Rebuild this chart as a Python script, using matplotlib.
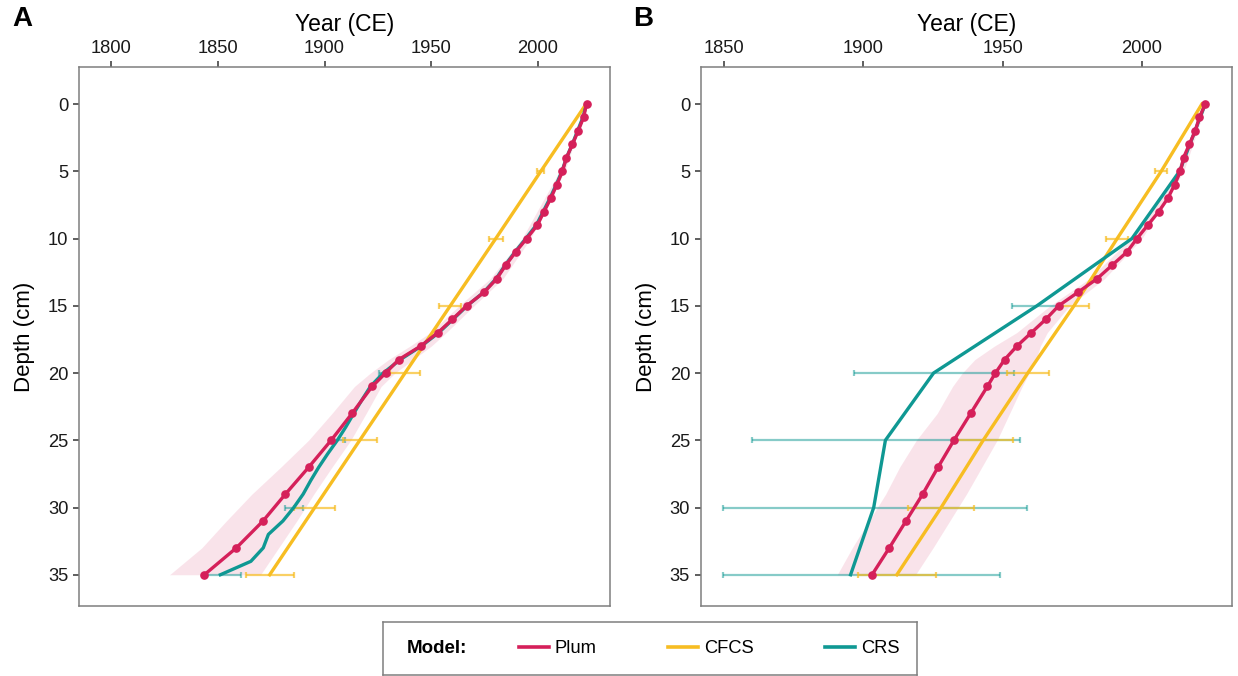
import numpy as np
import matplotlib
matplotlib.use("Agg")
import matplotlib.pyplot as plt
from matplotlib.lines import Line2D

plt.rcParams['font.family'] = ['Liberation Sans', 'DejaVu Sans']

# ---- data ----
plum_depth = [0, 1, 2, 3, 4, 5, 6, 7, 8, 9, 10, 11, 12, 13, 14, 15, 16, 17, 18, 19, 20, 21,
              23, 25, 27, 29, 31, 33, 35]
plum_age_a = [2022.7, 2021.3, 2018.8, 2016.1, 2013.3, 2011.4, 2008.8, 2006.0, 2002.8, 1999.7,
              1994.7, 1989.5, 1984.8, 1980.6, 1974.7, 1966.6, 1959.9, 1953.1, 1945.0, 1934.8,
              1928.6, 1922.3, 1912.9, 1903.1, 1892.6, 1881.7, 1871.2, 1858.7, 1843.7]
plum_age_b = [2022.7, 2020.6, 2019.1, 2017.0, 2014.9, 2013.8, 2011.7, 2009.3, 2006.0, 2002.1,
              1998.2, 1994.6, 1989.2, 1983.8, 1977.0, 1970.1, 1965.5, 1960.3, 1955.1, 1950.7,
              1947.4, 1944.5, 1938.5, 1932.5, 1926.8, 1921.3, 1915.3, 1909.3, 1903.1]

band_depth = [0, 5, 10, 13, 15, 17, 18, 19, 20, 21, 23, 25, 27, 29, 31, 33, 35]
band_lo_a = [2022.3, 2010.0, 1992.5, 1977.5, 1963.0, 1949.5, 1940.0, 1930.0, 1921.5, 1914.0,
             1903.5, 1892.5, 1879.5, 1866.0, 1854.0, 1842.5, 1827.4]
band_hi_a = [2023.1, 2012.5, 1996.5, 1983.5, 1970.0, 1957.0, 1950.0, 1941.5, 1933.0, 1926.5,
             1919.5, 1912.3, 1903.5, 1895.0, 1887.0, 1878.5, 1870.0]
band_lo_b = [2022.3, 2012.3, 1996.0, 1981.0, 1967.0, 1955.0, 1947.0, 1940.0, 1935.5, 1932.0,
             1926.5, 1919.0, 1913.0, 1908.0, 1902.0, 1896.0, 1890.6]
band_hi_b = [2023.1, 2015.0, 2000.0, 1986.5, 1974.0, 1966.0, 1963.5, 1962.0, 1959.5, 1957.0,
             1952.5, 1948.0, 1942.5, 1937.0, 1931.0, 1925.0, 1918.7]

cfcs_depth = [0, 5, 10, 15, 20, 25, 30, 35]
cfcs_age_a = [2022.5, 2001.3, 1980.2, 1958.9, 1937.7, 1916.5, 1895.4, 1874.3]
cfcs_age_b = [2021.5, 2006.9, 1991.1, 1975.6, 1959.0, 1943.0, 1927.9, 1912.0]
cfcs_err_depth = [5, 10, 15, 20, 25, 30, 35]
cfcs_err_a = [1.7, 3.4, 5.2, 6.9, 8.0, 9.7, 11.3]
cfcs_err_b = [2.1, 4.0, 5.5, 7.5, 10.6, 11.9, 13.9]

crs_depth_a = list(range(36))
crs_age_a = [2022.7, 2021.0, 2018.5, 2016.0, 2013.3, 2011.2, 2008.5, 2005.6, 2002.4, 1999.2,
             1994.3, 1989.2, 1984.5, 1980.3, 1974.5, 1966.8, 1960.2, 1953.5, 1945.3, 1935.5,
             1927.5, 1921.5, 1917.5, 1913.7, 1910.0, 1906.0, 1901.5, 1897.3, 1893.5, 1890.0,
             1885.6, 1880.5, 1873.7, 1871.3, 1865.5, 1851.2]
crs_err_depth_a = [20, 25, 30, 35]
crs_lo_a = [1925.5, 1904.0, 1881.7, 1844.8]
crs_hi_a = [1929.5, 1909.8, 1889.9, 1860.9]

crs_depth_b = [0, 5, 10, 15, 20, 25, 30, 35]
crs_age_b = [2022.7, 2013.5, 1996.4, 1962.3, 1925.2, 1907.9, 1903.7, 1895.4]
crs_err_depth_b = [15, 20, 25, 30, 35]
crs_lo_b = [1953.3, 1896.8, 1860.1, 1849.6, 1849.5]
crs_hi_b = [1971.3, 1953.9, 1956.3, 1958.7, 1948.9]

models = ['Plum', 'CFCS', 'CRS']
colors = {'Plum': '#d5205a', 'CFCS': '#f7bd22', 'CRS': '#0f9893'}
depth_ticks = [0, 5, 10, 15, 20, 25, 30, 35]
year_ticks_a = [1800, 1850, 1900, 1950, 2000]
year_ticks_b = [1850, 1900, 1950, 2000]

W, H = 1238, 676
fig = plt.figure(figsize=(W / 100, H / 100), dpi=100)


def panel(rect, xlim, xticks, plum_age, lo, hi, cfcs_age, cfcs_err,
          crs_d, crs_age, crs_ed, crs_lo, crs_hi):
    ax = fig.add_axes(rect)
    ax.fill_betweenx(band_depth, lo, hi, color=colors['Plum'], alpha=0.12, lw=0, zorder=1)

    cen = (np.array(crs_lo) + np.array(crs_hi)) / 2
    half = (np.array(crs_hi) - np.array(crs_lo)) / 2
    ax.errorbar(cen, crs_ed, xerr=half, fmt='none', ecolor=colors['CRS'], alpha=0.5,
                elinewidth=1.6, capsize=2.4, capthick=1.6, zorder=2)
    cfcs_at = np.interp(cfcs_err_depth, cfcs_depth, cfcs_age)
    ax.errorbar(cfcs_at, cfcs_err_depth, xerr=cfcs_err, fmt='none', ecolor=colors['CFCS'],
                alpha=0.7, elinewidth=1.6, capsize=2.4, capthick=1.6, zorder=2)

    ax.plot(cfcs_age, cfcs_depth, color=colors['CFCS'], lw=2.4, zorder=3)
    ax.plot(crs_age, crs_d, color=colors['CRS'], lw=2.4, zorder=4)
    ax.plot(plum_age, plum_depth, color=colors['Plum'], lw=2.4, marker='o', ms=5.2, zorder=5)

    ax.set_xlim(*xlim)
    ax.set_ylim(37.3, -2.73)
    ax.xaxis.tick_top()
    ax.xaxis.set_label_position('top')
    ax.set_xticks(xticks)
    ax.set_yticks(depth_ticks)
    ax.set_xlabel('Year (CE)', fontsize=16.5, labelpad=6)
    ax.set_ylabel('Depth (cm)', fontsize=16, labelpad=9)
    ax.tick_params(length=4.5, width=1.1, color='#333333', labelsize=13.2,
                   labelcolor='#1a1a1a', pad=3.2)
    for s in ax.spines.values():
        s.set_color('#7f7f7f')
        s.set_linewidth(1.1)
    return ax


panel([79 / W, 1 - 605.7 / H, (610 - 79) / W, (605.7 - 67.3) / H], (1785.0, 2033.7),
      year_ticks_a, plum_age_a, band_lo_a, band_hi_a, cfcs_age_a, cfcs_err_a,
      crs_depth_a, crs_age_a, crs_err_depth_a, crs_lo_a, crs_hi_a)
panel([700.7 / W, 1 - 605.7 / H, (1231.7 - 700.7) / W, (605.7 - 67.3) / H], (1841.6, 2032.2),
      year_ticks_b, plum_age_b, band_lo_b, band_hi_b, cfcs_age_b, cfcs_err_b,
      crs_depth_b, crs_age_b, crs_err_depth_b, crs_lo_b, crs_hi_b)

fig.text(22 / W, 1 - 19 / H, 'A', fontsize=20, weight='bold', ha='center', va='center')
fig.text(643 / W, 1 - 19 / H, 'B', fontsize=20, weight='bold', ha='center', va='center')

# legend box
lax = fig.add_axes([383.5 / W, 1 - 675 / H, (917 - 383.5) / W, (675 - 622) / H])
lax.set_xticks([])
lax.set_yticks([])
for s in lax.spines.values():
    s.set_color('#7f7f7f')
    s.set_linewidth(1.1)
lax.text(0.044, 0.5, 'Model:', fontsize=13.5, weight='bold', ha='left', va='center',
         transform=lax.transAxes)
handles = [Line2D([], [], color=colors[m], lw=2.6) for m in models]
lax.legend(handles, models, ncol=3, loc='center left', bbox_to_anchor=(0.24, 0.5),
           frameon=False, fontsize=13.2, handlelength=1.65, handletextpad=0.3,
           columnspacing=3.9, borderaxespad=0)

fig.savefig('out.png', dpi=100)
